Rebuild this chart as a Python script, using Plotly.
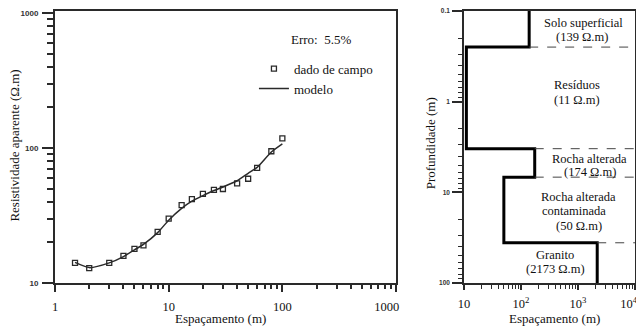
import plotly.graph_objects as go

# ---------------- data: left panel (apparent resistivity sounding) ----------------
spacing = [1.5, 2, 3, 4, 5, 6, 8, 10, 13, 16, 20, 25, 30, 40, 50, 60, 80, 100]
field_rho = [14.1, 12.9, 14.1, 15.9, 17.9, 19.0, 23.9, 30.0, 37.8, 41.8, 45.7,
             48.9, 49.7, 54.7, 59.2, 71.2, 94.6, 117.7]
model_rho = [14.2, 13.0, 14.1, 15.7, 17.6, 19.3, 23.6, 29.2, 35.7, 40.4, 44.4,
             48.4, 51.4, 57.2, 65.0, 71.9, 93.5, 107.4]
fit_error = "5.5%"
left_x_ticks = [1, 10, 100, 1000]
left_y_ticks = [10, 100, 1000]

# ---------------- data: right panel (layered model) ----------------
layer_names = ["Solo superficial", "Resíduos", "Rocha alterada",
               "Rocha alterada<br>contaminada", "Granito"]
layer_rho = [139, 11, 174, 50, 2173]
layer_top = [0.1, 0.25, 3.3, 6.8, 36]
layer_bottom = [0.25, 3.3, 6.8, 36, 100]
right_x_ticks = [10, 100, 1000, 10000]
right_y_ticks = [0.1, 1, 10, 100]

SERIF = "Liberation Serif, Times New Roman, serif"
SANS = "Liberation Sans, Arial, sans-serif"
INK = "#2a2a2a"
NB = "\u00a0"

fig = go.Figure()

# field data and model curve
fig.add_trace(go.Scatter(
    x=spacing, y=field_rho, mode="markers", name="dado de campo",
    marker=dict(symbol="square-open", size=5, color=INK, line=dict(width=1.3, color=INK)),
    xaxis="x", yaxis="y"))
fig.add_trace(go.Scatter(
    x=spacing, y=model_rho, mode="lines", name="modelo",
    line=dict(color=INK, width=1.5, shape="spline", smoothing=0.6),
    xaxis="x", yaxis="y"))

# layered model step line
step_x, step_y = [], []
for rho, top, bot in zip(layer_rho, layer_top, layer_bottom):
    step_x += [rho, rho]
    step_y += [top, bot]
fig.add_trace(go.Scatter(x=step_x, y=step_y, mode="lines", showlegend=False,
                         line=dict(color="black", width=3),
                         xaxis="x2", yaxis="y2"))

# dashed layer boundaries
bx, by = [], []
for i in range(len(layer_rho) - 1):
    bx += [max(layer_rho[i], layer_rho[i + 1]), right_x_ticks[-1], None]
    by += [layer_bottom[i], layer_bottom[i], None]
fig.add_trace(go.Scatter(x=bx, y=by, mode="lines", showlegend=False,
                         line=dict(color="#444", width=1, dash="dash"),
                         xaxis="x2", yaxis="y2"))


def minor_vals(decades):
    return [m * 10 ** e for e in decades for m in range(2, 10)]


axis_common = dict(type="log", showgrid=False, zeroline=False, linecolor=INK,
                   tickcolor=INK, tickwidth=1.5, automargin=False)

fig.update_layout(
    template="none",
    width=636, height=327,
    margin=dict(l=55, r=1, t=11, b=44, pad=0),
    paper_bgcolor="white", plot_bgcolor="white",
    font=dict(family=SERIF, size=13, color="#111"),
    showlegend=True,
    legend=dict(x=0.343, y=0.843, xanchor="left", yanchor="top",
                bgcolor="rgba(0,0,0,0)", borderwidth=0,
                font=dict(family=SERIF, size=13), tracegroupgap=0),
    xaxis=dict(**axis_common, domain=[0, 0.588], range=[0, 3], anchor="y",
               showline=True, linewidth=2, mirror=True,
               ticks="outside", ticklen=7,
               tickvals=left_x_ticks,
               ticktext=[str(v) for v in left_x_ticks[:-1]] + [str(left_x_ticks[-1]) + NB * 6],
               tickfont=dict(family=SERIF, size=12.5), ticklabelstandoff=4,
               minor=dict(ticks="outside", ticklen=4, tickvals=minor_vals([0, 1, 2]),
                          tickcolor=INK, tickwidth=1.5, showgrid=False)),
    yaxis=dict(**axis_common, domain=[0, 1], range=[1, 3.015], anchor="x",
               showline=True, linewidth=2, mirror=True,
               ticks="outside", ticklen=11,
               tickvals=left_y_ticks, ticktext=[str(v) for v in left_y_ticks],
               tickfont=dict(family=SANS, size=8, color="#333", weight="bold"),
               ticklabelstandoff=2,
               minor=dict(ticks="outside", ticklen=6, tickvals=minor_vals([1, 2]),
                          tickcolor=INK, tickwidth=1.5, showgrid=False)),
    xaxis3=dict(**axis_common, overlaying="x", side="top", range=[0, 3], anchor="y",
                showline=False, ticks="inside", ticklen=6, tickvals=[10, 100],
                showticklabels=False),
    yaxis3=dict(**axis_common, overlaying="y", side="right", range=[1, 3.015], anchor="x",
                showline=False, ticks="inside", ticklen=10, tickvals=[100],
                showticklabels=False),
    xaxis2=dict(**axis_common, domain=[0.7052, 1], range=[1, 4], anchor="y2",
                showline=True, linewidth=1.6, mirror=True,
                ticks="outside", ticklen=5,
                tickvals=right_x_ticks,
                ticktext=["10", "10<sup>2</sup>", "10<sup>3</sup>", "10<sup>4</sup>" + NB * 4],
                tickfont=dict(family=SERIF, size=12.5), ticklabelstandoff=3,
                ticklabeloverflow="allow",
                minor=dict(ticks="outside", ticklen=4, tickvals=minor_vals([1, 2, 3]),
                           tickcolor=INK, tickwidth=1.2, showgrid=False)),
    yaxis2=dict(**axis_common, domain=[0, 1], range=[2, -1], anchor="x2",
                showline=True, linewidth=1.6, mirror=True,
                ticks="outside", ticklen=10,
                tickvals=right_y_ticks, ticktext=[str(v) for v in right_y_ticks],
                tickfont=dict(family=SANS, size=6.5, color="#333", weight="bold"),
                ticklabelstandoff=1,
                minor=dict(ticks="outside", ticklen=4, tickvals=minor_vals([-1, 0, 1]),
                           tickcolor=INK, tickwidth=1.2, showgrid=False)),
    xaxis4=dict(**axis_common, overlaying="x2", side="top", range=[1, 4], anchor="y2",
                showline=False, ticks="inside", ticklen=6, tickvals=[100],
                showticklabels=False),
    yaxis4=dict(**axis_common, overlaying="y2", side="right", range=[2, -1], anchor="x2",
                showline=False, ticks="inside", ticklen=10, tickvals=[1, 10],
                showticklabels=False),
)

C = dict(xanchor="center", yanchor="middle", showarrow=False)
annotations = [
    dict(text="Espaçamento (m)", x=0.2845, y=-0.132, xref="paper", yref="paper",
         font=dict(size=13), **C),
    dict(text="Espaçamento (m)", x=0.862, y=-0.132, xref="paper", yref="paper",
         font=dict(size=13), **C),
    dict(text="Resistividade aparente (Ω.m)", x=-0.069, y=0.505, xref="paper", yref="paper",
         textangle=-90, font=dict(size=13), **C),
    dict(text="Profundidade (m)", x=0.648, y=0.513, xref="paper", yref="paper",
         textangle=-90, font=dict(size=13), **C),
    dict(text="Erro:" + NB * 2 + fit_error, x=0.4586, y=0.897, xref="paper", yref="paper",
         font=dict(size=13), **C),
]

# layer labels (each text line placed separately, log-axis coordinates)
label_lines = [
    (layer_names[0], 3.09, -0.867),
    (f"({layer_rho[0]} Ω.m)", 3.07, -0.712),
    (layer_names[1], 2.98, -0.181),
    (f"({layer_rho[1]} Ω.m)", 2.99, -0.015),
    (layer_names[2], 3.21, 0.627),
    (f"({layer_rho[2]} Ω.m)", 3.21, 0.771),
    (layer_names[3].split("<br>")[0], 3.0, 1.048),
    (layer_names[3].split("<br>")[1], 2.93, 1.211),
    (f"({layer_rho[3]} Ω.m)", 3.02, 1.369),
    (layer_names[4], 2.6, 1.690),
    (f"({layer_rho[4]} Ω.m)", 2.61, 1.848),
]
for text, lx, ly in label_lines:
    annotations.append(dict(text=text, x=lx, y=ly, xref="x2", yref="y2",
                            font=dict(size=12.5), **C))

fig.update_layout(annotations=annotations)

fig.write_html("out.html",
               config={"displayModeBar": False},
               post_script="document.body.style.margin='0';document.body.style.overflow='hidden';")
